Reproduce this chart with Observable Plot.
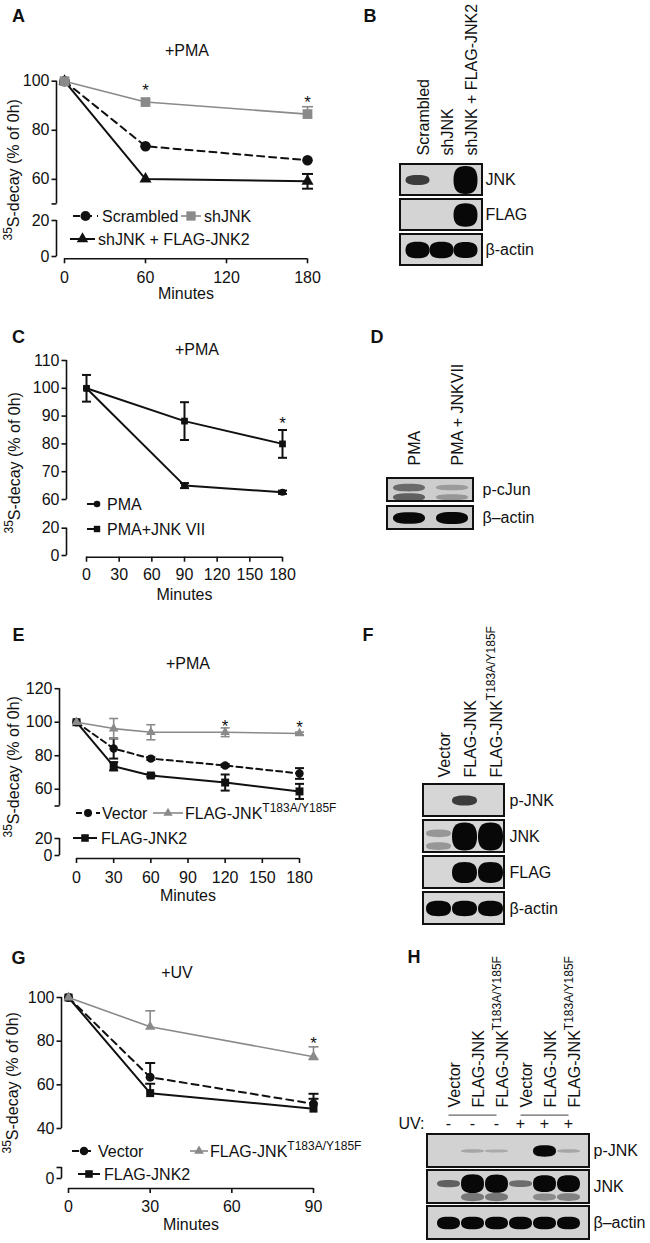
<!DOCTYPE html>
<html>
<head>
<meta charset="utf-8">
<script src="https://cdn.jsdelivr.net/npm/d3@7"></script>
<script src="https://cdn.jsdelivr.net/npm/@observablehq/plot@0.6"></script>
<style>
html,body{margin:0;padding:0;background:#fff;}
#fig{position:relative;width:650px;height:1243px;overflow:hidden;background:#fff;font-family:"Liberation Sans",Arial,Helvetica,sans-serif;}
#fig svg{position:absolute;overflow:visible;}
</style>
</head>
<body>
<div id="fig"></div>
<script>
// ===================== DATA =====================
// Panel A (+PMA)
const aMinutes = [0, 60, 180];
const aScrambled = [100, 73.5, 67.8];
const aShJNK = [100, 91.5, 86.6];
const aShJNKErrUp = [0, 0, 3.0];
const aRescue = [100, 60.1, 59.2];
const aRescueErr = [0, 0, 3.0];
const aStarMinutes = [60, 180];
const aStarLevel = [98.3, 93.4];
const aXTicks = [0, 60, 120, 180];
const aYTicks = [50, 60, 80, 100];
const aYTicksLow = [0, 20];

// Panel C (+PMA)
const cMinutes = [0, 90, 180];
const cPMA = [100, 65.0, 62.6];
const cPMAErr = [0, 0.9, 0.6];
const cJNKVII = [100, 88.2, 80.0];
const cJNKVIIErr = [4.8, 6.8, 5.0];
const cStarMinutes = [180];
const cStarLevel = [89];
const cXTicks = [0, 30, 60, 90, 120, 150, 180];
const cYTicks = [60, 70, 80, 90, 100, 110];
const cYTicksLow = [0, 20];

// Panel E (+PMA)
const eMinutes = [0, 30, 60, 120, 180];
const eVector = [100, 84.3, 78.3, 74.2, 69.4];
const eVectorErr = [0, 6.0, 0.8, 0.8, 3.2];
const eMutant = [100, 96.2, 94.0, 94.0, 93.3];
const eMutantErr = [0, 6.0, 4.5, 2.6, 0.8];
const eJNK2 = [100, 73.7, 68.2, 64.0, 58.7];
const eJNK2Err = [0, 2.5, 0.8, 4.8, 4.5];
const eStarMinutes = [120, 180];
const eStarLevel = [100.6, 100.0];
const eXTicks = [0, 30, 60, 90, 120, 150, 180];
const eYTicks = [50, 60, 80, 100, 120];
const eYTicksLow = [0, 20];

// Panel G (+UV)
const gMinutes = [0, 30, 90];
const gVector = [100, 63.5, 51.3];
const gVectorErrUp = [0, 6.5, 4.6];
const gMutant = [100, 86.6, 72.9];
const gMutantErrUp = [0, 7.3, 4.5];
const gMutantErrDn = [0, 0, 1.3];
const gJNK2 = [100, 56.2, 49.1];
const gJNK2ErrUp = [0, 4.3, 4.5];
const gStarMinutes = [90];
const gStarLevel = [81.2];
const gXTicks = [0, 30, 60, 90];
const gYTicks = [40, 60, 80, 100];
const gYTicksLow = [0, 10];

// Western blots: band signal (arbitrary densitometry units; >1 = saturated)
const bLanes = ["Scrambled", "shJNK", "shJNK + FLAG-JNK2"];
const bRows = ["JNK", "FLAG", "β-actin"];
const bBands = [
  {lane: 0, row: "JNK", signal: 0.5},
  {lane: 2, row: "JNK", signal: 4.0},
  {lane: 2, row: "FLAG", signal: 2.8},
  {lane: 0, row: "β-actin", signal: 1.4},
  {lane: 1, row: "β-actin", signal: 1.4},
  {lane: 2, row: "β-actin", signal: 1.3}
];

const dLanes = ["PMA", "PMA + JNKVII"];
const dRows = ["p-cJun", "β–actin"];
const dBands = [
  {lane: 0, row: "p-cJun", signal: 0.5, iso: "upper"},
  {lane: 0, row: "p-cJun", signal: 0.55, iso: "lower"},
  {lane: 1, row: "p-cJun", signal: 0.25, iso: "upper"},
  {lane: 1, row: "p-cJun", signal: 0.28, iso: "lower"},
  {lane: 0, row: "β–actin", signal: 1.1},
  {lane: 1, row: "β–actin", signal: 1.2}
];

const fLanes = ["Vector", "FLAG-JNK", "FLAG-JNK<sup>T183A/Y185F</sup>"];
const fRows = ["p-JNK", "JNK", "FLAG", "β-actin"];
const fBands = [
  {lane: 1, row: "p-JNK", signal: 0.5},
  {lane: 0, row: "JNK", signal: 0.3, iso: "upper"},
  {lane: 0, row: "JNK", signal: 0.3, iso: "lower"},
  {lane: 1, row: "JNK", signal: 4.0},
  {lane: 2, row: "JNK", signal: 4.0},
  {lane: 1, row: "FLAG", signal: 2.3},
  {lane: 2, row: "FLAG", signal: 2.2},
  {lane: 0, row: "β-actin", signal: 1.2},
  {lane: 1, row: "β-actin", signal: 1.2},
  {lane: 2, row: "β-actin", signal: 1.2}
];

const hLanes = ["Vector", "FLAG-JNK", "FLAG-JNK<sup>T183A/Y185F</sup>", "Vector", "FLAG-JNK", "FLAG-JNK<sup>T183A/Y185F</sup>"];
const hUV = ["-", "-", "-", "+", "+", "+"];
const hUVGroups = [{from: 0, to: 2}, {from: 3, to: 5}];
const hRows = ["p-JNK", "JNK", "β–actin"];
const hBands = [
  {lane: 1, row: "p-JNK", signal: 0.08},
  {lane: 2, row: "p-JNK", signal: 0.06},
  {lane: 4, row: "p-JNK", signal: 0.9},
  {lane: 5, row: "p-JNK", signal: 0.08},
  {lane: 0, row: "JNK", signal: 0.35, iso: "upper"},
  {lane: 1, row: "JNK", signal: 2.4, iso: "upper"},
  {lane: 2, row: "JNK", signal: 2.3, iso: "upper"},
  {lane: 3, row: "JNK", signal: 0.3, iso: "upper"},
  {lane: 4, row: "JNK", signal: 1.9, iso: "upper"},
  {lane: 5, row: "JNK", signal: 2.0, iso: "upper"},
  {lane: 1, row: "JNK", signal: 0.45, iso: "lower"},
  {lane: 2, row: "JNK", signal: 0.45, iso: "lower"},
  {lane: 4, row: "JNK", signal: 0.35, iso: "lower"},
  {lane: 5, row: "JNK", signal: 0.4, iso: "lower"},
  {lane: 0, row: "β–actin", signal: 1.1},
  {lane: 1, row: "β–actin", signal: 1.1},
  {lane: 2, row: "β–actin", signal: 1.1},
  {lane: 3, row: "β–actin", signal: 1.1},
  {lane: 4, row: "β–actin", signal: 1.1},
  {lane: 5, row: "β–actin", signal: 1.1}
];

// ===================== RENDERING =====================
const FONT = '"Liberation Sans", Arial, Helvetica, sans-serif';
const BLACK = "#111111", GRAY = "#8a8a8a";
const YLABEL = "<sup>35</sup>S-decay (% of 0h)";
const fig = document.getElementById("fig");

const capSymbol = {draw(ctx, size) { const w = Math.sqrt(size / Math.PI); ctx.moveTo(-w, 0); ctx.lineTo(w, 0); }};
const leftTick = {draw(ctx, size) { const w = Math.sqrt(size / Math.PI); ctx.moveTo(-w, 0); ctx.lineTo(0, 0); }};

function place(el, left, top) {
  el.style.position = "absolute";
  el.style.left = left + "px";
  el.style.top = top + "px";
  fig.appendChild(el);
  return el;
}

function chart(L, series, stars) {
  const W = 340, top = L.top, H = L.height;
  const sy = v => v - top;
  const yRange = L.yRange.map(sy);
  // broken (piecewise) axis: a scale transform maps the two axis segments onto the frame
  const broken = d3.scaleLinear().domain(L.yDomain).range(yRange);
  const marginBottom = H - sy(L.xAxisY);
  const ax = {stroke: BLACK, strokeWidth: 1.6};
  const dxAxis = L.yAxisX - L.xRange[0];
  const unl = new Set(L.yUnlabeled);
  const marks = [
    Plot.ruleX([L.xDomain[0]], {y1: L.yDomain[2], y2: L.yDomain[3], dx: dxAxis, ...ax}),
    Plot.ruleX([L.xDomain[0]], {y1: L.yDomain[0], y2: L.yDomain[1], dx: dxAxis, ...ax}),
    Plot.ruleY([L.yDomain[0]], {x1: L.xDomain[0], x2: L.xDomain[1], dy: sy(L.xAxisY) - yRange[0], ...ax}),
    Plot.dot(L.yTicks, {y: d => d, frameAnchor: "left", symbol: leftTick, r: 5, fill: "none", ...ax}),
    Plot.text(L.yTicks.filter(d => !unl.has(d)), {y: d => d, text: d => String(d), frameAnchor: "left", textAnchor: "end", dx: -7, fill: BLACK}),
    Plot.axisX({anchor: "bottom", ticks: L.xTicks, tickFormat: d => String(d), tickSize: 5, tickPadding: L.xPad, label: null, ...ax}),
    Plot.text(["Minutes"], {text: d => d, frameAnchor: "bottom", lineAnchor: "top", dy: L.xLabelOffset,
      dx: (L.xRange[0] + L.xRange[1]) / 2 - (L.yAxisX + L.xRange[1]) / 2, fill: BLACK}),
    Plot.text([YLABEL], {text: d => d, frameAnchor: "bottom-left", rotate: -90, textAnchor: "start",
      dx: L.yLabelX - L.yAxisX, dy: sy(L.yLabelBottom) - sy(L.xAxisY), fill: BLACK})
  ];
  for (const s of series) {
    const rows = s.x.map((x, i) => ({x, y: s.y[i], hi: s.y[i] + (s.up ? s.up[i] : 0), lo: s.y[i] - (s.dn ? s.dn[i] : 0)}));
    const st = {stroke: s.color, strokeWidth: s.width};
    marks.push(Plot.line(rows, {x: "x", y: "y", ...st, strokeDasharray: s.dash || null}));
    const hiRows = rows.filter(d => d.hi > d.y), loRows = rows.filter(d => d.lo < d.y);
    marks.push(Plot.ruleX(rows.filter(d => d.hi > d.y || d.lo < d.y), {x: "x", y1: "lo", y2: "hi", ...st}));
    marks.push(Plot.dot(hiRows, {x: "x", y: "hi", symbol: capSymbol, r: L.cap, fill: "none", ...st}));
    marks.push(Plot.dot(loRows, {x: "x", y: "lo", symbol: capSymbol, r: L.cap, fill: "none", ...st}));
    marks.push(Plot.dot(rows, {x: "x", y: "y", symbol: s.symbol, r: s.r, fill: s.color, stroke: "none"}));
  }
  const starRows = stars.x.map((x, i) => ({x, y: stars.y[i]}));
  marks.push(Plot.text(starRows, {x: "x", y: "y", text: () => "*", fontSize: 17, dy: 5, fill: BLACK}));
  const el = Plot.plot({
    width: W, height: H, marginLeft: L.yAxisX, marginRight: W - L.xRange[1], marginTop: 0, marginBottom,
    x: {domain: L.xDomain, range: L.xRange},
    y: {type: "linear", transform: broken, domain: [yRange[0], yRange[3]], range: [yRange[0], yRange[3]], axis: null},
    style: {fontSize: "16px", fontFamily: FONT, color: BLACK, background: "transparent", overflow: "visible"},
    marks
  });
  return place(el, 0, top);
}

let blurId = 0;
function blot(C, lanes, rows, bands, extras) {
  const bw = (C.rowsY[1] - C.rowsY[0]) / (rows.length - C.padInner) * (1 - C.padInner);
  const k = 0.7;
  const sym = {draw(ctx, size) {
    const ry = Math.sqrt(size / Math.PI), rx = C.rx;
    ctx.moveTo(rx, 0);
    ctx.bezierCurveTo(rx, k * ry, k * rx, ry, 0, ry);
    ctx.bezierCurveTo(-k * rx, ry, -rx, k * ry, -rx, 0);
    ctx.bezierCurveTo(-rx, -k * ry, -k * rx, -ry, 0, -ry);
    ctx.bezierCurveTo(k * rx, -ry, rx, -k * ry, rx, 0);
    ctx.closePath();
  }};
  const bandOpts = {x: "lane", y: "row", r: "signal", symbol: sym, fill: "#080808", fillOpacity: "signal", stroke: "none", ariaLabel: "bands"};
  const marks = [
    Plot.cell(rows, {y: d => d, fill: C.bg, stroke: "none"}),
    Plot.dot(bands.filter(d => !d.iso), bandOpts),
    Plot.dot(bands.filter(d => d.iso === "upper"), {...bandOpts, dy: -0.1 * bw}),
    Plot.dot(bands.filter(d => d.iso === "lower"), {...bandOpts, dy: 0.3 * bw}),
    Plot.cell(rows, {y: d => d, fill: "none", stroke: BLACK, strokeWidth: 2}),
    Plot.text(lanes, {x: (d, i) => i, text: d => d, frameAnchor: "top", rotate: -90, textAnchor: "start", dy: -C.laneGap, fill: BLACK}),
    Plot.text(rows, {y: d => d, text: d => d, frameAnchor: "right", textAnchor: "start", dx: C.labelGap, fill: BLACK}),
    ...(extras ? extras(bw) : [])
  ];
  const el = Plot.plot({
    width: C.width, height: C.height,
    marginLeft: C.boxX[0] - C.left, marginRight: C.left + C.width - C.boxX[1],
    marginTop: C.rowsY[0] - C.top, marginBottom: C.top + C.height - C.rowsY[1],
    x: {type: "band", domain: d3.range(lanes.length), paddingInner: 0, paddingOuter: C.padOuter, axis: null},
    y: {type: "band", domain: rows, paddingInner: C.padInner, paddingOuter: 0, axis: null},
    r: {type: "sqrt", domain: [0, 4], range: [0, C.maxR], clamp: true},
    opacity: {type: "linear", domain: [0, 0.7], range: [0.12, 1], clamp: true},
    style: {fontSize: "16px", fontFamily: FONT, color: BLACK, background: "transparent", overflow: "visible"},
    marks
  });
  const id = "blur" + (blurId++);
  const svg = d3.select(el);
  svg.insert("defs", ":first-child").append("filter").attr("id", id)
    .attr("x", "-40%").attr("y", "-100%").attr("width", "180%").attr("height", "300%")
    .append("feGaussianBlur").attr("stdDeviation", 1.5);
  svg.selectAll('g[aria-label="bands"]').attr("filter", `url(#${id})`);
  return place(el, C.left, C.top);
}

// ---------- line charts ----------
const seriesA = [
  {label: "Scrambled", x: aMinutes, y: aScrambled, color: BLACK, width: 2, dash: "7,5", symbol: "circle", r: 5.3},
  {label: "shJNK + FLAG-JNK2", x: aMinutes, y: aRescue, up: aRescueErr, dn: aRescueErr, color: BLACK, width: 2, symbol: "triangle", r: 4.5},
  {label: "shJNK", x: aMinutes, y: aShJNK, up: aShJNKErrUp, color: GRAY, width: 1.6, symbol: "square", r: 5.5}
];
chart({top: 60, height: 250, yAxisX: 56, xRange: [64, 307], xDomain: [0, 180], xTicks: aXTicks,
  yDomain: [0, 20, 50, 100], yRange: [256, 220, 203.4, 80.7], yTicks: [...aYTicksLow, ...aYTicks], yUnlabeled: [50],
  xAxisY: 258.3, xPad: 8, xLabelOffset: 29, yLabelX: 18, yLabelBottom: 240, cap: 5.5},
  seriesA, {x: aStarMinutes, y: aStarLevel});

const seriesC = [
  {label: "PMA", x: cMinutes, y: cPMA, up: cPMAErr, dn: cPMAErr, color: BLACK, width: 2, symbol: "circle", r: 3.5},
  {label: "PMA+JNK VII", x: cMinutes, y: cJNKVII, up: cJNKVIIErr, dn: cJNKVIIErr, color: BLACK, width: 2, symbol: "square", r: 3.8}
];
chart({top: 350, height: 270, yAxisX: 66, xRange: [86, 282], xDomain: [0, 180], xTicks: cXTicks,
  yDomain: [0, 20, 60, 110], yRange: [555, 527.7, 499, 360], yTicks: [...cYTicksLow, ...cYTicks], yUnlabeled: [],
  xAxisY: 556.7, xPad: 6, xLabelOffset: 31, yLabelX: 19, yLabelBottom: 533, cap: 4.5},
  seriesC, {x: cStarMinutes, y: cStarLevel});

const seriesE = [
  {label: "Vector", x: eMinutes, y: eVector, up: eVectorErr, dn: eVectorErr, color: BLACK, width: 2, dash: "6,4", symbol: "circle", r: 4.2},
  {label: "FLAG-JNK2", x: eMinutes, y: eJNK2, up: eJNK2Err, dn: eJNK2Err, color: BLACK, width: 2, symbol: "square", r: 4.5},
  {label: "FLAG-JNK<sup>T183A/Y185F</sup>", x: eMinutes, y: eMutant, up: eMutantErr, dn: eMutantErr, color: GRAY, width: 1.6, symbol: "triangle", r: 3.6}
];
chart({top: 670, height: 260, yAxisX: 59, xRange: [76, 299], xDomain: [0, 180], xTicks: eXTicks,
  yDomain: [0, 20, 50, 120], yRange: [855, 838, 805.5, 688.2], yTicks: [...eYTicksLow, ...eYTicks], yUnlabeled: [50],
  xAxisY: 858, xPad: 8, xLabelOffset: 31, yLabelX: 18, yLabelBottom: 837, cap: 4.5},
  seriesE, {x: eStarMinutes, y: eStarLevel});

const seriesG = [
  {label: "Vector", x: gMinutes, y: gVector, up: gVectorErrUp, color: BLACK, width: 2, dash: "7,5", symbol: "circle", r: 4.5},
  {label: "FLAG-JNK2", x: gMinutes, y: gJNK2, up: gJNK2ErrUp, color: BLACK, width: 2, symbol: "square", r: 4.5},
  {label: "FLAG-JNK<sup>T183A/Y185F</sup>", x: gMinutes, y: gMutant, up: gMutantErrUp, dn: gMutantErrDn, color: GRAY, width: 1.6, symbol: "triangle", r: 3.8}
];
chart({top: 985, height: 255, yAxisX: 61, xRange: [68, 313], xDomain: [0, 90], xTicks: gXTicks,
  yDomain: [0, 10, 40, 100], yRange: [1178, 1167, 1128, 997], yTicks: [...gYTicksLow, ...gYTicks], yUnlabeled: [10],
  xAxisY: 1188, xPad: 7, xLabelOffset: 30, yLabelX: 17, yLabelBottom: 1153, cap: 5},
  seriesG, {x: gStarMinutes, y: gStarLevel});

// ---------- blots ----------
blot({left: 380, top: 0, width: 270, height: 275, boxX: [400, 482], rowsY: [163, 267], padInner: 0.11, padOuter: 0.14,
  rx: 12, maxR: 14, laneGap: 8, labelGap: 3, bg: "#d4d4d4"}, bLanes, bRows, bBands);
blot({left: 380, top: 320, width: 270, height: 220, boxX: [387, 473], rowsY: [477, 530], padInner: 0.17, padOuter: 0,
  rx: 16, maxR: 11, laneGap: 12, labelGap: 9, bg: "#cdcdcd"}, dLanes, dRows, dBands);
blot({left: 380, top: 620, width: 270, height: 310, boxX: [423, 504], rowsY: [783, 924], padInner: 0.12, padOuter: 0.05,
  rx: 12.5, maxR: 14, laneGap: 6, labelGap: 5, bg: "#d6d6d6"}, fLanes, fRows, fBands);
blot({left: 380, top: 940, width: 270, height: 303, boxX: [427, 589], rowsY: [1133, 1240], padInner: 0.08, padOuter: 0.3,
  rx: 11.5, maxR: 12, laneGap: 26, labelGap: 4, bg: "#d2d2d2"}, hLanes, hRows, hBands, bw => [
    Plot.text(hUV, {x: (d, i) => i, y: () => hRows[0], text: d => d, dy: -(bw / 2 + 10), fill: BLACK}),
    Plot.text(["UV:"], {y: () => hRows[0], text: d => d, frameAnchor: "left", textAnchor: "end", dx: -3, dy: -(bw / 2 + 10), fill: BLACK}),
    Plot.link(hUVGroups, {x1: "from", x2: "to", y1: () => hRows[0], y2: () => hRows[0], dy: -(bw / 2 + 19), stroke: "#666", strokeWidth: 1.2})
  ]);

// ---------- overlay: panel letters, titles, legends ----------
const ov = d3.create("svg").attr("width", 650).attr("height", 1243)
  .style("position", "absolute").style("left", "0px").style("top", "0px").style("pointer-events", "none")
  .style("font-family", FONT).style("font-size", "16px").style("overflow", "visible");
const letters = [["A", 18.5, 16], ["B", 370, 16], ["C", 18.5, 337], ["D", 377, 337], ["E", 18.5, 635], ["F", 368, 635], ["G", 18.5, 958], ["H", 414, 957]];
for (const [t, x, y] of letters) ov.append("text").attr("x", x).attr("y", y).attr("dy", "0.36em").attr("text-anchor", "middle")
  .attr("font-weight", "bold").attr("font-size", 18).attr("fill", BLACK).text(t);
const titles = [["+PMA", 187, 50], ["+PMA", 197, 349], ["+PMA", 188, 663], ["+UV", 177, 972]];
for (const [t, x, y] of titles) ov.append("text").attr("x", x).attr("y", y).attr("dy", "0.36em").attr("text-anchor", "middle").attr("fill", BLACK).text(t);

function legend(series, items) {
  const g = ov.append("g");
  for (const it of items) {
    const s = series[it.s];
    g.append("line").attr("x1", it.x1).attr("x2", it.x2).attr("y1", it.y).attr("y2", it.y)
      .attr("stroke", s.color).attr("stroke-width", s.width).attr("stroke-dasharray", s.dash || null);
    const r = s.r * 0.95;
    if (s.symbol === "circle") g.append("circle").attr("cx", it.sx).attr("cy", it.y).attr("r", r).attr("fill", s.color);
    else g.append("path").attr("d", d3.symbol(s.symbol === "square" ? d3.symbolSquare : d3.symbolTriangle, r * r * Math.PI)())
      .attr("transform", `translate(${it.sx},${it.y})`).attr("fill", s.color);
    g.append("text").attr("x", it.tx).attr("y", it.y).attr("dy", "0.36em").attr("fill", BLACK).text(s.label);
  }
}
legend(seriesA, [
  {s: 0, y: 216, x1: 73, x2: 98, sx: 85.5, tx: 102},
  {s: 2, y: 216, x1: 181, x2: 201, sx: 191, tx: 204},
  {s: 1, y: 239, x1: 70, x2: 95, sx: 82.5, tx: 98}
]);
legend(seriesC, [
  {s: 0, y: 504, x1: 87, x2: 100, sx: 97, tx: 107},
  {s: 1, y: 529, x1: 87, x2: 100, sx: 97, tx: 107}
]);
legend(seriesE, [
  {s: 0, y: 813, x1: 76, x2: 100, sx: 88, tx: 102},
  {s: 2, y: 813, x1: 153, x2: 183, sx: 168, tx: 185},
  {s: 1, y: 838, x1: 73, x2: 97, sx: 85, tx: 101}
]);
legend(seriesG, [
  {s: 0, y: 1151, x1: 72, x2: 96, sx: 84, tx: 98},
  {s: 2, y: 1151, x1: 190, x2: 208, sx: 199, tx: 210},
  {s: 1, y: 1174, x1: 78, x2: 100, sx: 89, tx: 104}
]);
fig.appendChild(ov.node());

// ---------- superscripts ----------
d3.select(fig).selectAll("text").each(function() {
  const t = this.textContent;
  if (!t.includes("<sup>")) return;
  const el = d3.select(this);
  this.textContent = "";
  for (const p of t.split(/(<sup>.*?<\/sup>)/).filter(Boolean)) {
    const m = p.match(/^<sup>(.*)<\/sup>$/);
    if (m) el.append("tspan").attr("baseline-shift", "super").style("font-size", "12px").text(m[1]);
    else el.append("tspan").text(p);
  }
});
</script>
</body>
</html>
